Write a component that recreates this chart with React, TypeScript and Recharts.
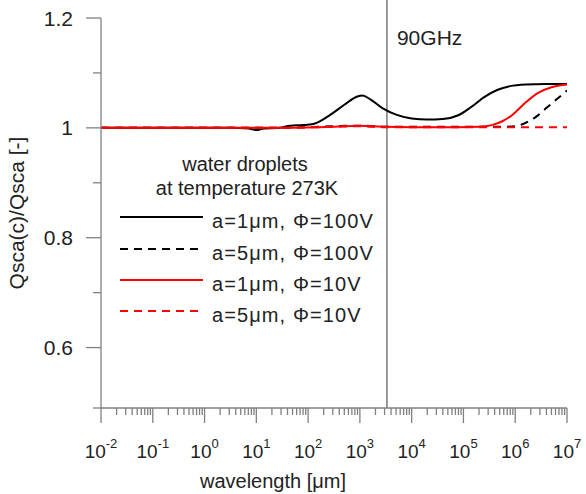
import React from 'react';
import { LineChart, Line, XAxis, YAxis, ReferenceLine } from 'recharts';

// ---------- data (x given as log10 of wavelength in µm) ----------
const BLACK_SOLID_LOG = [-2, 0.5, 0.85, 1.0, 1.15, 1.45, 1.65, 1.9, 2.1, 2.4, 2.7, 2.95, 3.05, 3.2, 3.45, 3.7, 4.0, 4.3, 4.6, 4.9, 5.15, 5.4, 5.65, 5.9, 6.2, 6.6, 7];
const BLACK_SOLID_VAL = [1.0, 1.0, 0.999, 0.996, 0.999, 1.0, 1.004, 1.005, 1.007, 1.022, 1.042, 1.057, 1.059, 1.052, 1.035, 1.024, 1.017, 1.015, 1.016, 1.023, 1.038, 1.056, 1.069, 1.076, 1.079, 1.08, 1.08];

const BLACK_DASH_LOG = [-2, 1.5, 2.5, 3.0, 3.5, 5.8, 6.0, 6.2, 6.4, 6.6, 6.8, 7.0];
const BLACK_DASH_VAL = [1.0, 1.0, 1.003, 1.004, 1.002, 1.002, 1.003, 1.009, 1.02, 1.036, 1.052, 1.068];

const RED_SOLID_LOG = [-2, 1.5, 2.5, 3.0, 3.5, 4.5, 5.3, 5.55, 5.75, 5.95, 6.2, 6.45, 6.7, 7.0];
const RED_SOLID_VAL = [1.0, 1.0, 1.002, 1.004, 1.002, 1.001, 1.002, 1.005, 1.012, 1.024, 1.046, 1.064, 1.074, 1.079];

const RED_DASH_LOG = [-2, 1.5, 2.5, 3.0, 3.5, 5.0, 7.0];
const RED_DASH_VAL = [1.0, 1.0, 1.002, 1.003, 1.001, 1.001, 1.001];

const SERIES_NAMES = ['a=1\u03BCm, \u03A6=100V', 'a=5\u03BCm, \u03A6=100V', 'a=1\u03BCm, \u03A6=10V', 'a=5\u03BCm, \u03A6=10V'];
const SERIES_COLORS = ['#000000', '#000000', '#ff0000', '#ff0000'];
const SERIES_DASHED = [false, true, false, true];
const SERIES_LOGS = [BLACK_SOLID_LOG, BLACK_DASH_LOG, RED_SOLID_LOG, RED_DASH_LOG];
const SERIES_VALS = [BLACK_SOLID_VAL, BLACK_DASH_VAL, RED_SOLID_VAL, RED_DASH_VAL];

const LEGEND_TITLE = ['water droplets', 'at temperature 273K'];

const MAJOR_EXPONENTS = [-2, -1, 0, 1, 2, 3, 4, 5, 6, 7];
const MINOR_MULTIPLIERS = [2, 3, 4, 5, 6, 7, 8, 9];
const Y_MAJOR_TICKS = [0.6, 0.8, 1.0, 1.2];
const Y_MAJOR_LABELS = ['0.6', '0.8', '1', '1.2'];
const Y_MINOR_TICKS = [0.49, 0.7, 0.9, 1.1];
const Y_DOMAIN: [number, number] = [0.49, 1.2];
const X_DOMAIN: [number, number] = [0.01, 1e7];

const FREQ_LINE_WAVELENGTH = 3331; // µm, 90 GHz
const FREQ_LINE_LABEL = '90GHz';
const FREQ_LINE_TOP = 1.233;

const X_TITLE = 'wavelength [\u03BCm]';
const Y_TITLE = 'Qsca(c)/Qsca [-]';

// ---------- layout ----------
const W = 586;
const H = 494;
const Y_AXIS_W = 101;
const X_AXIS_H = 86;
const PLOT_LEFT = Y_AXIS_W;
const PLOT_BOTTOM = H - X_AXIS_H;
const AXIS = '#808080';
const TEXT = '#222222';
const FONT = '"Liberation Sans", Arial, Helvetica, sans-serif';

const seriesData = SERIES_LOGS.map((logs, i) =>
  logs.map((e, j) => ({ x: Math.pow(10, e), y: SERIES_VALS[i][j] }))
);

const X_TICKS: number[] = [];
MAJOR_EXPONENTS.forEach((e) => {
  X_TICKS.push(Math.pow(10, e));
  if (e < 7) MINOR_MULTIPLIERS.forEach((m) => X_TICKS.push(m * Math.pow(10, e)));
});
const Y_TICKS = [...Y_MAJOR_TICKS, ...Y_MINOR_TICKS].sort((a, b) => a - b);

const isMajorX = (v: number) => {
  const l = Math.log10(v);
  return Math.abs(l - Math.round(l)) < 1e-9;
};

const XTick = (props: any) => {
  const { payload } = props;
  const x = payload.coordinate;
  const v = payload.value;
  const major = isMajorX(v);
  const exp = Math.round(Math.log10(v));
  return (
    <g>
      <line x1={x} x2={x} y1={PLOT_BOTTOM} y2={PLOT_BOTTOM + (major ? 15 : 7)} stroke={AXIS} strokeWidth={1.3} />
      {major && (
        <text x={x} y={PLOT_BOTTOM + 50} textAnchor="middle" fontSize={19} fill={TEXT} fontFamily={FONT}>
          <tspan>10</tspan>
          <tspan dy={-10} fontSize={13}>{String(exp)}</tspan>
        </text>
      )}
    </g>
  );
};

const YTick = (props: any) => {
  const { payload } = props;
  const y = payload.coordinate;
  const v = payload.value;
  const idx = Y_MAJOR_TICKS.findIndex((t) => Math.abs(t - v) < 1e-9);
  const major = idx >= 0;
  return (
    <g>
      <line x1={PLOT_LEFT} x2={PLOT_LEFT - (major ? 15 : 8)} y1={y} y2={y} stroke={AXIS} strokeWidth={1.3} />
      {major && (
        <text x={PLOT_LEFT - 28} y={y + 7.5} textAnchor="end" fontSize={21} fill={TEXT} fontFamily={FONT}>
          {Y_MAJOR_LABELS[idx]}
        </text>
      )}
    </g>
  );
};

const Legend = () => {
  const rowY = [217, 249, 280, 311];
  return (
    <svg width={W} height={H} style={{ position: 'absolute', left: 0, top: 0, pointerEvents: 'none' }}>
      <text x={245} y={171} textAnchor="middle" fontSize={20} fill={TEXT} fontFamily={FONT}>{LEGEND_TITLE[0]}</text>
      <text x={247} y={195} textAnchor="middle" fontSize={20} fill={TEXT} fontFamily={FONT}>{LEGEND_TITLE[1]}</text>
      {SERIES_NAMES.map((name, i) => (
        <g key={name}>
          <line x1={120} x2={203} y1={rowY[i]} y2={rowY[i]} stroke={SERIES_COLORS[i]} strokeWidth={2}
            strokeDasharray={SERIES_DASHED[i] ? '8 6' : undefined} />
          <text x={212} y={rowY[i] + 11} fontSize={20} letterSpacing={1.1} fill={TEXT} fontFamily={FONT}>{name}</text>
        </g>
      ))}
      <text x={24} y={(18 + PLOT_BOTTOM) / 2} transform={`rotate(-90 24 ${(18 + PLOT_BOTTOM) / 2})`} textAnchor="middle"
        fontSize={21} fill={TEXT} fontFamily={FONT}>{Y_TITLE}</text>
      <text x={273} y={488} textAnchor="middle" fontSize={20} fill={TEXT} fontFamily={FONT}>{X_TITLE}</text>
    </svg>
  );
};

const FreqLabel = (props: any) => {
  const vb = props.viewBox || {};
  return (
    <text x={(vb.x || 0) + 10} y={45} fontSize={21} fill={TEXT} fontFamily={FONT}>{FREQ_LINE_LABEL}</text>
  );
};

export default function App() {
  return (
    <div style={{ position: 'absolute', left: 0, top: 0, width: W, height: H, background: '#fff' }}>
      <LineChart width={W} height={H} margin={{ top: 18, right: 19, bottom: 0, left: 0 }}>
        <XAxis dataKey="x" type="number" scale="log" domain={X_DOMAIN} allowDataOverflow ticks={X_TICKS}
          interval={0} tick={<XTick />} tickLine={false} height={X_AXIS_H}
          axisLine={{ stroke: AXIS, strokeWidth: 1.3 }} />
        <YAxis type="number" domain={Y_DOMAIN} allowDataOverflow ticks={Y_TICKS} interval={0} tick={<YTick />}
          tickLine={false} width={Y_AXIS_W} axisLine={{ stroke: AXIS, strokeWidth: 1.3 }} />
        <ReferenceLine segment={[{ x: FREQ_LINE_WAVELENGTH, y: Y_DOMAIN[0] }, { x: FREQ_LINE_WAVELENGTH, y: FREQ_LINE_TOP }]}
          ifOverflow="visible" stroke="#555555" strokeWidth={1.2} label={<FreqLabel />} />
        {seriesData.map((d, i) => (
          <Line key={SERIES_NAMES[i]} data={d} dataKey="y" type="monotone" stroke={SERIES_COLORS[i]} strokeWidth={2}
            strokeDasharray={SERIES_DASHED[i] ? '8 6' : undefined} dot={false} activeDot={false}
            isAnimationActive={false} />
        ))}
      </LineChart>
      <Legend />
    </div>
  );
}
